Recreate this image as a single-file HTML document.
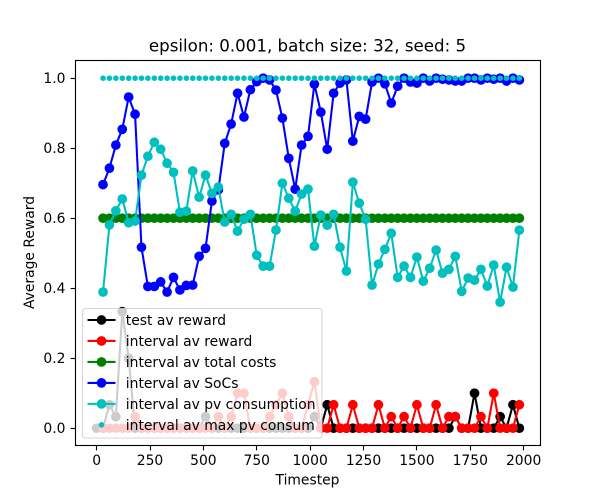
<!DOCTYPE html>
<html>
<head>
<meta charset="utf-8">
<title>epsilon: 0.001, batch size: 32, seed: 5</title>
<style>
html,body{margin:0;padding:0;background:#fff;}
svg{display:block;}
text{font-family:"DejaVu Sans","Liberation Sans",sans-serif;fill:#000;}
</style>
</head>
<body>
<svg id="chart" xmlns="http://www.w3.org/2000/svg" width="600" height="500" viewBox="0 0 600 500">
  <rect x="0" y="0" width="600" height="500" fill="#fff"/>
  <g id="plot"></g>
  <rect x="75.5" y="60.5" width="465" height="385" fill="none" stroke="#000" stroke-width="1.11"/>
  <g id="ticks"></g>
  <text x="307.5" y="51.5" font-size="16.67" text-anchor="middle">epsilon: 0.001, batch size: 32, seed: 5</text>
  <text x="307.5" y="484.5" font-size="13.89" text-anchor="middle">Timestep</text>
  <text x="0" y="0" font-size="13.89" text-anchor="middle" transform="translate(34,252.5) rotate(-90)">Average Reward</text>
  <g id="legend">
    <rect x="82.5" y="308.5" width="239.5" height="129.5" rx="2.8" ry="2.8" fill="#fff" fill-opacity="0.8" stroke="#cccccc" stroke-opacity="0.8" stroke-width="1.11"/>
  </g>
</svg>
<script>
var testTimesteps = [0,30,60,90,120,150,180,210,240,270,300,330,360,390,420,450,480,510,540,570,600,630,660,690,720,750,780,810,840,870,900,930,960,990,1020,1050,1080,1110,1140,1170,1200,1230,1260,1290,1320,1350,1380,1410,1440,1470,1500,1530,1560,1590,1620,1650,1680,1710,1740,1770,1800,1830,1860,1890,1920,1950,1980];
var intervalTimesteps = [30,60,90,120,150,180,210,240,270,300,330,360,390,420,450,480,510,540,570,600,630,660,690,720,750,780,810,840,870,900,930,960,990,1020,1050,1080,1110,1140,1170,1200,1230,1260,1290,1320,1350,1380,1410,1440,1470,1500,1530,1560,1590,1620,1650,1680,1710,1740,1770,1800,1830,1860,1890,1920,1950,1980];
var testReward = [0,0,0.067,0.033,0.333,0.2,0,0,0,0,0,0,0,0,0,0,0,0.033,0,0,0,0,0,0,0,0,0,0,0,0,0,0,0,0,0.033,0,0.067,0,0,0,0,0,0,0,0,0,0,0,0,0,0,0,0,0,0,0,0.033,0,0,0.1,0,0,0,0.033,0,0.067,0];
var intervalReward = [0,0,0,0,0,0.033,0,0,0,0,0,0,0,0,0,0,0,0,0.033,0,0.033,0.1,0.1,0,0,0,0.033,0.067,0.1,0.033,0,0,0.067,0.133,0,0,0.067,0,0,0.067,0,0,0,0.067,0,0.033,0,0.033,0,0.067,0,0,0.067,0,0.033,0.033,0,0,0,0.033,0,0.1,0,0,0,0.067];
var intervalTotalCosts = [0.6,0.6,0.6,0.6,0.6,0.6,0.6,0.6,0.6,0.6,0.6,0.6,0.6,0.6,0.6,0.6,0.6,0.6,0.6,0.6,0.6,0.6,0.6,0.6,0.6,0.6,0.6,0.6,0.6,0.6,0.6,0.6,0.6,0.6,0.6,0.6,0.6,0.6,0.6,0.6,0.6,0.6,0.6,0.6,0.6,0.6,0.6,0.6,0.6,0.6,0.6,0.6,0.6,0.6,0.6,0.6,0.6,0.6,0.6,0.6,0.6,0.6,0.6,0.6,0.6,0.6];
var intervalSocs = [0.696,0.743,0.809,0.854,0.946,0.897,0.517,0.405,0.405,0.418,0.389,0.431,0.395,0.408,0.409,0.491,0.514,0.649,0.681,0.814,0.869,0.957,0.889,0.967,0.99,1.0,0.995,0.966,0.886,0.771,0.683,0.809,0.834,0.983,0.903,0.797,0.957,0.986,0.995,0.82,0.891,0.883,0.989,1.0,0.984,0.929,0.977,1.0,0.989,0.986,1.0,0.992,1.0,0.997,0.995,0.992,0.992,1.0,1.0,0.995,1.0,0.997,1.0,0.992,1.0,0.995];
var intervalPvConsumption = [0.389,0.581,0.621,0.655,0.587,0.592,0.723,0.777,0.817,0.797,0.757,0.731,0.617,0.62,0.735,0.66,0.723,0.671,0.689,0.589,0.611,0.563,0.597,0.611,0.494,0.463,0.463,0.566,0.7,0.657,0.62,0.669,0.683,0.52,0.609,0.58,0.611,0.517,0.449,0.703,0.643,0.597,0.409,0.469,0.511,0.557,0.431,0.463,0.431,0.489,0.42,0.457,0.509,0.443,0.454,0.491,0.391,0.429,0.423,0.454,0.406,0.466,0.36,0.46,0.403,0.566];
var intervalMaxPv = [1,1,1,1,1,1,1,1,1,1,1,1,1,1,1,1,1,1,1,1,1,1,1,1,1,1,1,1,1,1,1,1,1,1,1,1,1,1,1,1,1,1,1,1,1,1,1,1,1,1,1,1,1,1,1,1,1,1,1,1,1,1,1,1,1,1];
var xTickValues = [0,250,500,750,1000,1250,1500,1750,2000];
var xTickLabels = ["0","250","500","750","1000","1250","1500","1750","2000"];
var yTickValues = [0,0.2,0.4,0.6,0.8,1.0];
var yTickLabels = ["0.0","0.2","0.4","0.6","0.8","1.0"];
var legendLabels = ["test av reward","interval av reward","interval av total costs","interval av SoCs","interval av pv consumption","interval av max pv consum"];

var NS = "http://www.w3.org/2000/svg";
var plot = document.getElementById("plot");
var ticks = document.getElementById("ticks");
var legend = document.getElementById("legend");

function xScale(v) { return 75.5 + (v + 99) * 465 / 2178; }
function yScale(v) { return 428.2 - v * 350; }

function makeEl(tag, parent) {
  var el = document.createElementNS(NS, tag);
  parent.appendChild(el);
  return el;
}

function drawSeries(name, xs, ys, color, lineOn, radius) {
  var g = makeEl("g", plot);
  
  
  if (lineOn) {
    var pts = [];
    for (var i = 0; i < ys.length; i++) {
      pts.push(xScale(xs[i]).toFixed(2) + "," + yScale(ys[i]).toFixed(2));
    }
    var line = makeEl("polyline", g);
    
    
    line.setAttribute("points", pts.join(" "));
    line.setAttribute("fill", "none");
    line.setAttribute("stroke", color);
    line.setAttribute("stroke-width", "2.08");
    line.setAttribute("stroke-linejoin", "round");
  }
  for (var j = 0; j < ys.length; j++) {
    var c = makeEl("circle", g);
    
    
    c.setAttribute("cx", xScale(xs[j]).toFixed(2));
    c.setAttribute("cy", yScale(ys[j]).toFixed(2));
    c.setAttribute("r", radius);
    c.setAttribute("fill", color);
  }
}

drawSeries("test-av-reward", testTimesteps, testReward, "#000000", true, 4.85);
drawSeries("interval-av-reward", intervalTimesteps, intervalReward, "#ff0000", true, 4.85);
drawSeries("interval-av-total-costs", intervalTimesteps, intervalTotalCosts, "#008000", true, 4.85);
drawSeries("interval-av-socs", intervalTimesteps, intervalSocs, "#0000ff", true, 4.85);
drawSeries("interval-av-pv-consumption", intervalTimesteps, intervalPvConsumption, "#00bfbf", true, 4.85);
drawSeries("interval-av-max-pv-consum", intervalTimesteps, intervalMaxPv, "#00bfbf", false, 2.8);

xTickValues.forEach(function (v, i) {
  var x = xScale(v);
  var snappedX = Math.floor(x) + 0.5;
  var t = makeEl("line", ticks);
  
  
  t.setAttribute("x1", snappedX); t.setAttribute("x2", snappedX);
  t.setAttribute("y1", 445.5); t.setAttribute("y2", 450.4);
  t.setAttribute("stroke", "#000"); t.setAttribute("stroke-width", "1.11");
  var l = makeEl("text", ticks);
  
  
  l.setAttribute("x", x); l.setAttribute("y", 465);
  l.setAttribute("font-size", "13.89");
  l.setAttribute("text-anchor", "middle");
  l.textContent = xTickLabels[i];
});

yTickValues.forEach(function (v, i) {
  var y = yScale(v);
  var snappedY = Math.floor(y) + 0.5;
  var t = makeEl("line", ticks);
  
  
  t.setAttribute("x1", 70.6); t.setAttribute("x2", 75.5);
  t.setAttribute("y1", snappedY); t.setAttribute("y2", snappedY);
  t.setAttribute("stroke", "#000"); t.setAttribute("stroke-width", "1.11");
  var l = makeEl("text", ticks);
  
  
  l.setAttribute("x", 65.5); l.setAttribute("y", y + 5);
  l.setAttribute("font-size", "13.89");
  l.setAttribute("text-anchor", "end");
  l.textContent = yTickLabels[i];
});

var legendColors = ["#000000","#ff0000","#008000","#0000ff","#00bfbf","#00bfbf"];
legendLabels.forEach(function (label, i) {
  var y = 320 + i * 20.97;
  var g = makeEl("g", legend);
  
  
  if (i < 5) {
    var ln = makeEl("line", g);
    
    
    ln.setAttribute("x1", 87.5); ln.setAttribute("x2", 115.5);
    ln.setAttribute("y1", y); ln.setAttribute("y2", y);
    ln.setAttribute("stroke", legendColors[i]); ln.setAttribute("stroke-width", "2.08");
  }
  var m = makeEl("circle", g);
  
  
  m.setAttribute("cx", 101.5); m.setAttribute("cy", y);
  m.setAttribute("r", i < 5 ? 4.85 : 2.8);
  m.setAttribute("fill", legendColors[i]);
  var tx = makeEl("text", g);
  
  
  tx.setAttribute("x", 125.8); tx.setAttribute("y", y + 5);
  tx.setAttribute("font-size", "13.89");
  tx.textContent = label;
});
</script>
</body>
</html>
